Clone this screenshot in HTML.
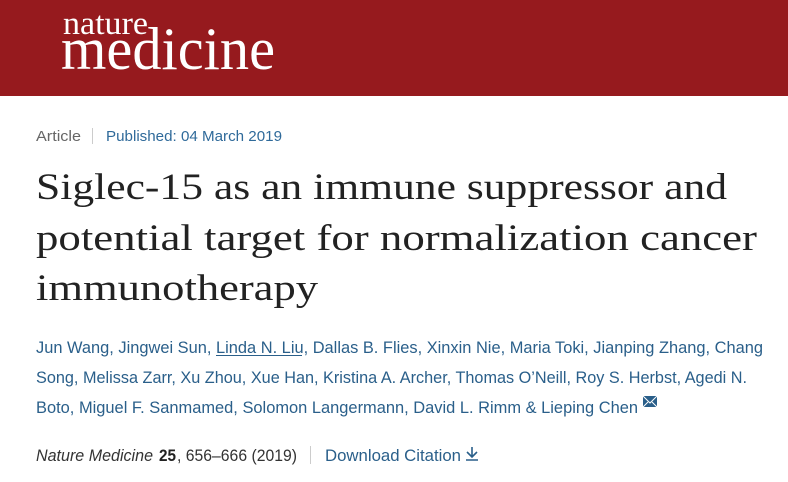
<!DOCTYPE html>
<html><head><meta charset="utf-8"><style>
html,body{margin:0;padding:0;background:#fff;width:788px;height:482px;overflow:hidden}
svg{display:block}
</style></head><body>
<svg width="788" height="482" xmlns="http://www.w3.org/2000/svg">
<rect x="0" y="0" width="788" height="96" fill="#961a1e"/>
<text x="63" y="34" font-family="Liberation Serif, serif" font-size="33" fill="#fff" textLength="85" lengthAdjust="spacingAndGlyphs">nature</text>
<text x="61" y="69" font-family="Liberation Serif, serif" font-size="60" fill="#fff" textLength="214" lengthAdjust="spacingAndGlyphs">medicine</text>

<g font-family="Liberation Sans, sans-serif" font-size="15">
<text x="36" y="141" fill="#666" textLength="45" lengthAdjust="spacingAndGlyphs">Article</text>
<rect x="92" y="128" width="1" height="16" fill="#ccc"/>
<text x="106" y="141" fill="#2f6a9a" textLength="176" lengthAdjust="spacingAndGlyphs">Published: 04 March 2019</text>
</g>

<g font-family="Liberation Serif, serif" font-size="37" fill="#222">
<text x="36" y="199" textLength="691" lengthAdjust="spacingAndGlyphs">Siglec-15 as an immune suppressor and</text>
<text x="36" y="250" textLength="721" lengthAdjust="spacingAndGlyphs">potential target for normalization cancer</text>
<text x="36" y="300" textLength="282" lengthAdjust="spacingAndGlyphs">immunotherapy</text>
</g>

<g font-family="Liberation Sans, sans-serif" font-size="17" fill="#2a5f8a">
<text x="36" y="353" textLength="727" lengthAdjust="spacingAndGlyphs">Jun Wang, Jingwei Sun, Linda N. Liu, Dallas B. Flies, Xinxin Nie, Maria Toki, Jianping Zhang, Chang</text>
<rect x="216" y="355" width="86" height="1" fill="#2a5f8a"/>
<text x="36" y="383" textLength="711" lengthAdjust="spacingAndGlyphs">Song, Melissa Zarr, Xu Zhou, Xue Han, Kristina A. Archer, Thomas O’Neill, Roy S. Herbst, Agedi N.</text>
<text x="36" y="413" textLength="602" lengthAdjust="spacingAndGlyphs">Boto, Miguel F. Sanmamed, Solomon Langermann, David L. Rimm &amp; Lieping Chen</text>
<rect x="643" y="396" width="14" height="11" fill="#2a5f8a"/>
<path d="M643 396 L650 403 L657 396 M643 407 L648 402 M657 407 L652 402" stroke="#fff" stroke-width="1" fill="none"/>
</g>

<g font-family="Liberation Sans, sans-serif" font-size="17">
<text x="36" y="461" fill="#333" font-style="italic" textLength="117" lengthAdjust="spacingAndGlyphs">Nature Medicine</text>
<text x="159" y="461" fill="#222" font-weight="bold" textLength="17" lengthAdjust="spacingAndGlyphs">25</text>
<text x="177" y="461" fill="#333" textLength="120" lengthAdjust="spacingAndGlyphs">, 656–666 (2019)</text>
<rect x="310" y="446" width="1" height="18" fill="#ccc"/>
<text x="325" y="461" fill="#2a5f8a" textLength="136" lengthAdjust="spacingAndGlyphs">Download Citation</text>
<path d="M472 447 V457 M467 452 L472 457 L477 452 M466 460 H478" stroke="#2a5f8a" stroke-width="1.6" fill="none"/>
</g>
</svg>
</body></html>
